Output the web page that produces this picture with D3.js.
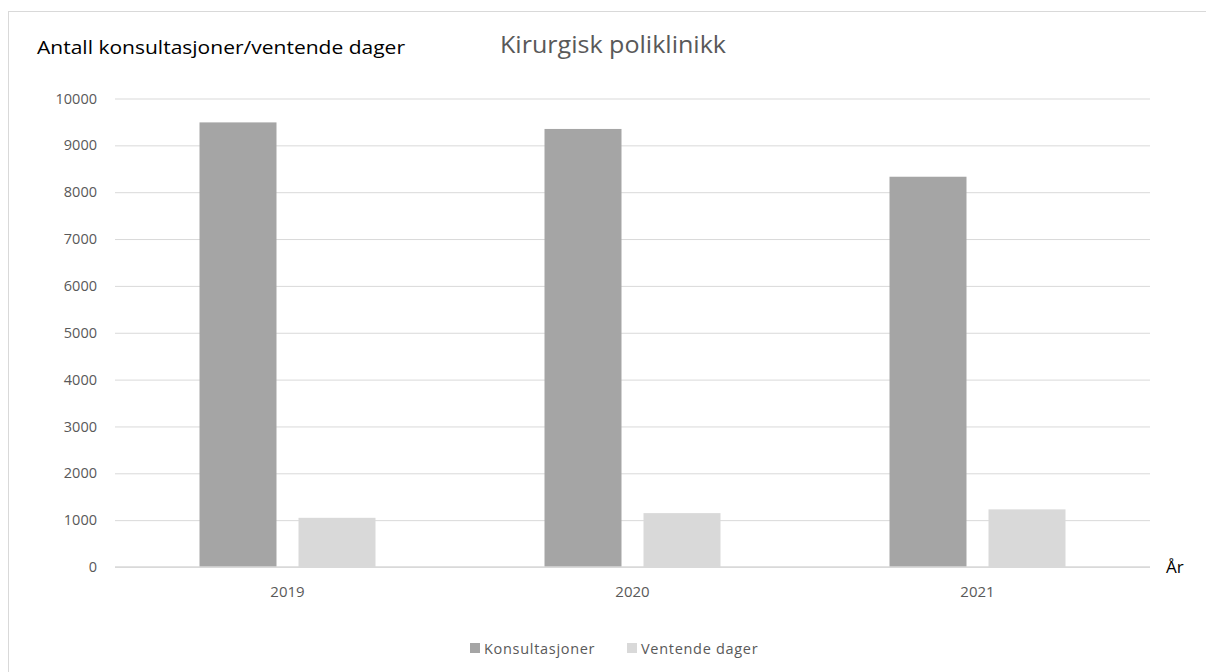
<!DOCTYPE html>
<html>
<head>
<meta charset="utf-8">
<script src="https://cdn.jsdelivr.net/npm/d3@7"></script>
<style>
  html, body { margin: 0; padding: 0; background: #fff; }
  svg { display: block; }
  text { font-family: "Open Sans", "Noto Sans", sans-serif; }
</style>
</head>
<body>
<svg id="chart" width="1206" height="672"></svg>
<script>
// Chart data
const years = ["2019", "2020", "2021"];
const seriesNames = ["Konsultasjoner", "Ventende dager"];
const konsultasjoner = [9490, 9350, 8330];
const ventendeDager = [1050, 1150, 1230];
const yTicks = [0, 1000, 2000, 3000, 4000, 5000, 6000, 7000, 8000, 9000, 10000];
const seriesColors = ["#a5a5a5", "#d9d9d9"];

const rows = years.map((y, i) => ({ year: y, values: [konsultasjoner[i], ventendeDager[i]] }));

const svg = d3.select("#chart");
const W = 1206, H = 672;
const plot = { left: 115, right: 1150, top: 98.5, bottom: 567 };

// chart frame
svg.append("rect")
  .attr("x", 8.5).attr("y", 11.5)
  .attr("width", W + 10).attr("height", H + 10)
  .attr("fill", "#fff").attr("stroke", "#d9d9d9").attr("stroke-width", 1);

const y = d3.scaleLinear().domain([0, 10000]).range([plot.bottom, plot.top]);
const x0 = d3.scaleBand().domain(years).range([plot.left, plot.right]).padding(0);
const pairWidth = 176;
const x1 = d3.scaleBand().domain(seriesNames)
  .range([(x0.bandwidth() - pairWidth) / 2, (x0.bandwidth() + pairWidth) / 2])
  .paddingInner(22 / 99).paddingOuter(0);

// gridlines + tick labels
const yAxis = d3.axisLeft(y).tickValues(yTicks).tickFormat(d3.format("d"))
  .tickSize(-(plot.right - plot.left)).tickPadding(18);
const gy = svg.append("g").attr("transform", `translate(${plot.left},0)`).call(yAxis);
gy.select(".domain").remove();
gy.selectAll(".tick line").attr("stroke", "#d9d9d9").attr("stroke-width", 1);
gy.selectAll(".tick text")
  .attr("fill", "#595959").attr("font-size", 14.5)
  .style("font-family", "'Open Sans', sans-serif");

// bars
const groups = svg.append("g").selectAll("g").data(rows).join("g")
  .attr("transform", d => `translate(${x0(d.year)},0)`);
groups.selectAll("rect")
  .data(d => d.values.map((v, i) => ({ key: seriesNames[i], value: v, idx: i })))
  .join("rect")
  .attr("x", d => x1(d.key))
  .attr("width", x1.bandwidth())
  .attr("y", d => y(d.value))
  .attr("height", d => y(0) - y(d.value))
  .attr("fill", d => seriesColors[d.idx]);

// baseline
svg.append("line")
  .attr("x1", plot.left).attr("x2", plot.right)
  .attr("y1", y(0)).attr("y2", y(0))
  .attr("stroke", "#d9d9d9").attr("stroke-width", 1.5);

// x axis labels
const xAxis = d3.axisBottom(x0).tickSize(0).tickPadding(19);
const gx = svg.append("g").attr("transform", `translate(0,${plot.bottom})`).call(xAxis);
gx.select(".domain").remove();
gx.selectAll(".tick text")
  .attr("fill", "#595959").attr("font-size", 15)
  .style("font-family", "'Open Sans', sans-serif");

// titles
svg.append("text")
  .attr("x", 613).attr("y", 53)
  .attr("text-anchor", "middle")
  .attr("fill", "#595959").attr("font-size", 24)
  .attr("textLength", 226).attr("lengthAdjust", "spacingAndGlyphs")
  .text("Kirurgisk poliklinikk");

svg.append("text")
  .attr("x", 37).attr("y", 54)
  .attr("fill", "#000").attr("font-size", 17.5)
  .attr("textLength", 368).attr("lengthAdjust", "spacingAndGlyphs")
  .text("Antall konsultasjoner/ventende dager");

svg.append("text")
  .attr("x", 1166).attr("y", 573)
  .attr("fill", "#000").attr("font-size", 17)
  .text("År");

// legend
const legendItems = [
  { name: seriesNames[0], color: seriesColors[0], x: 470 },
  { name: seriesNames[1], color: seriesColors[1], x: 627 }
];
const lg = svg.append("g").selectAll("g").data(legendItems).join("g")
  .attr("transform", d => `translate(${d.x},643)`);
lg.append("rect").attr("width", 10).attr("height", 10).attr("fill", d => d.color);
lg.append("text")
  .attr("x", 14).attr("y", 10.5)
  .attr("fill", "#595959").attr("font-size", 14.5)
  .attr("letter-spacing", 0.7)
  .text(d => d.name);
</script>
</body>
</html>
